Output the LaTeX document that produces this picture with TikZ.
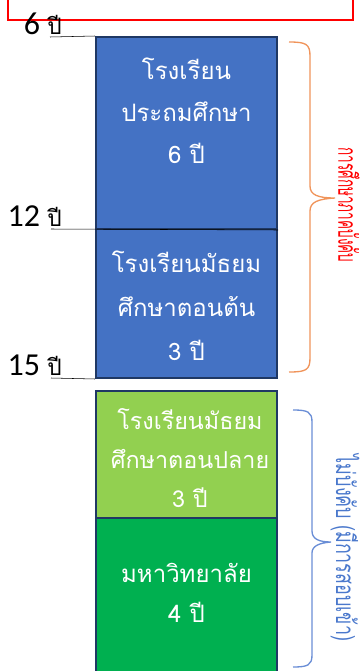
\documentclass[tikz,border=0pt]{standalone}
\usepackage{fontspec}
\setmainfont[Script=Thai]{Loma}
\newfontfamily\digitfont{Carlito}
\usetikzlibrary{decorations.pathreplacing}
\definecolor{lvlblue}{HTML}{4472C4}
\definecolor{lvllime}{HTML}{92D050}
\definecolor{lvlgreen}{HTML}{00B050}
\definecolor{lvlnavy}{HTML}{1F3864}
\definecolor{braceorange}{HTML}{F0945A}
\definecolor{braceblue}{HTML}{6A8ED6}
\definecolor{textblue}{HTML}{4A78CC}
\newcommand\yearword{{\rmfamily\fontsize{17}{20}\selectfont ปี}}
\tikzset{
    level/.style={draw=lvlnavy, line width=1.5pt, minimum width=135.75pt, inner sep=0pt},
    lvltext/.style={text=white, align=center, inner sep=0pt},
    age/.style={anchor=base east, inner sep=0pt, font=\digitfont\fontsize{24}{28}\selectfont},
    grp/.style={line width=1pt},
    grplabel/.style={rotate=-90, font=\fontsize{19.5}{22}\selectfont},
}
\begin{document}
\begin{tikzpicture}[x=0.75pt, y=-0.75pt]
    \useasboundingbox (0,0) rectangle (362,671);
    \clip (0,0) rectangle (362,671);
    \draw[red, line width=1.5pt] (8,-30) rectangle (353,20);
    % Levels
    \node[level, fill=lvlblue, minimum height=144pt] (primary) at (186.5,133) {};
    \node[level, fill=lvlblue, minimum height=111.75pt] (lowsec) at (186.5,303.5) {};
    \node[level, fill=lvllime, minimum height=95.25pt] (upsec) at (186.5,454.5) {};
    \node[level, fill=lvlgreen, minimum height=129pt] (uni) at (186.5,604) {};
    \node[lvltext, font=\fontsize{18}{31.5}\selectfont] (primarytxt) at (186.5,111) {โรงเรียน\\ประถมศึกษา\\6 ปี};
    \node[lvltext, font=\fontsize{18}{33}\selectfont] (lowsectxt) at (186.5,306) {โรงเรียนมัธยม\\ศึกษาตอนต้น\\3 ปี};
    \node[lvltext, font=\fontsize{17.5}{29}\selectfont] (upsectxt) at (190,458) {โรงเรียนมัธยม\\ศึกษาตอนปลาย\\3 ปี};
    \node[lvltext, font=\fontsize{18}{30}\selectfont] (unitxt) at (186.5,593) {มหาวิทยาลัย\\4 ปี};
    % Ages
    \node[age] (age6) at (62,34) {6 \yearword};
    \node[age] (age12) at (62,226) {12 \yearword};
    \node[age] (age15) at (62,375) {15 \yearword};
    \coordinate (u6) at (50,37);
    \coordinate (u12) at (51,229);
    \coordinate (u15) at (51,378);
    \draw (u6) -- (primary.north west);
    \draw (u12) -- (primary.south east);
    \draw (u15) -- (lowsec.south west);
    % Groups
    \coordinate (oa) at (289,42);
    \coordinate (ot) at (335,198);
    \coordinate (ob) at (289,372);
    \coordinate (ba) at (293,410);
    \coordinate (bt) at (331,542);
    \coordinate (bb) at (293,667);
    \draw[grp, braceorange] (oa) .. controls (306,42) and (310,44) .. (310,56) -- (310,186)
        .. controls (310,195) and (318,198) .. (ot) .. controls (318,199) and (310,202) .. (310,211)
        -- (310,358) .. controls (310,370) and (306,372) .. (ob);
    \draw[grp, braceblue] (ba) .. controls (308,410) and (312,412) .. (312,422) -- (312,531)
        .. controls (312,539) and (319,542) .. (bt) .. controls (319,543) and (312,546) .. (312,553)
        -- (312,655) .. controls (312,665) and (308,667) .. (bb);
    \node[grplabel, text=red] (compulsory) at (349,205) {\scalebox{0.52}[1]{การศึกษาภาคบังคับ}};
    \node[grplabel, text=textblue] (optional) at (345,548) {\scalebox{0.69}[1]{ไม่บังคับ (มีการสอบเข้า)}};
\end{tikzpicture}
\end{document}
